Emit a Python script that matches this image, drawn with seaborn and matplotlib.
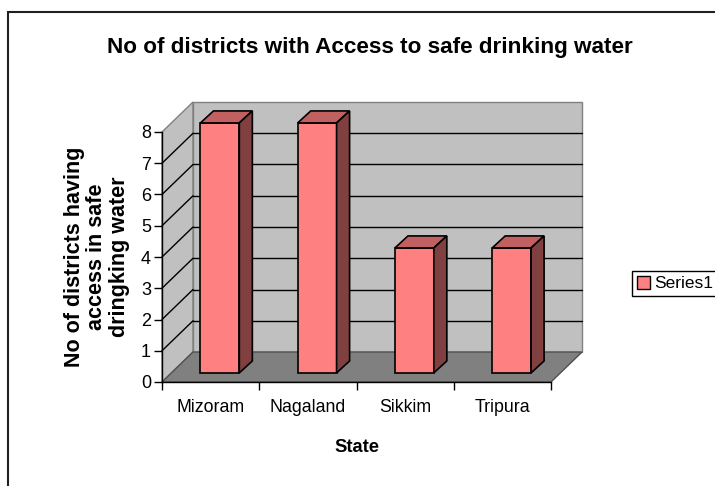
import matplotlib
matplotlib.use("Agg")
import matplotlib.pyplot as plt
import seaborn as sns
from matplotlib.patches import Polygon, Rectangle, Patch

states = ["Mizoram", "Nagaland", "Sikkim", "Tripura"]
districts = [8, 8, 4, 4]
series_name = "Series1"
y_ticks = [0, 1, 2, 3, 4, 5, 6, 7, 8]

FRONT = "#FF8080"
TOP = "#C06060"
SIDE = "#804040"
WALL = "#C0C0C0"
FLOOR = "#808080"

sns.set_style("white")
plt.rcParams["font.family"] = ["Liberation Sans", "DejaVu Sans"]
plt.rcParams["text.color"] = "black"
plt.rcParams["xtick.color"] = "black"
plt.rcParams["ytick.color"] = "black"
plt.rcParams["axes.labelcolor"] = "black"

fig = plt.figure(figsize=(7.15, 4.86), dpi=100)
ax = fig.add_axes([162 / 715, 1 - 382 / 486, 389 / 715, 250 / 486])
ax.set_facecolor("none")

# depth of the 3d box and of the bars (data units)
dx, dy = 0.319, 0.96
fx, fy = 0.095, 0.29
bx, by = 0.134, 0.384

x0, x1 = -0.5, len(states) - 0.5
ytop = y_ticks[-1]

# walls and floor
ax.add_patch(Polygon([(x0, 0), (x0, ytop), (x0 + dx, ytop + dy), (x0 + dx, dy)],
                     closed=True, fc=WALL, ec=FLOOR, lw=1, zorder=0.5, clip_on=False))
ax.add_patch(Rectangle((x0 + dx, dy), x1 - x0, ytop, fc=WALL, ec=FLOOR, lw=1,
                       zorder=0.5, clip_on=False))
ax.add_patch(Polygon([(x0, 0), (x1, 0), (x1 + dx, dy), (x0 + dx, dy)],
                     closed=True, fc=FLOOR, ec="#505050", lw=1, zorder=0.6, clip_on=False))
for v in y_ticks[1:-1]:
    ax.plot([x0 + dx, x1 + dx], [v + dy, v + dy], color="black", lw=1, zorder=0.7, clip_on=False)
    ax.plot([x0, x0 + dx], [v, v + dy], color="black", lw=1, zorder=0.7, clip_on=False)

sns.barplot(x=states, y=districts, color=FRONT, width=0.40, edgecolor="black",
            linewidth=1.2, saturation=1, ax=ax, zorder=3)

# push front faces back a bit and add top / side faces
for bar in ax.patches[3:]:
    bar.set_x(bar.get_x() + fx)
    bar.set_y(bar.get_y() + fy)
    bar.set_clip_on(False)
    xl = bar.get_x()
    xr = xl + bar.get_width()
    yb = bar.get_y()
    yt = yb + bar.get_height()
    ax.add_patch(Polygon([(xl, yt), (xr, yt), (xr + bx, yt + by), (xl + bx, yt + by)],
                         closed=True, fc=TOP, ec="black", lw=1.2, zorder=3, clip_on=False))
    ax.add_patch(Polygon([(xr, yb), (xr, yt), (xr + bx, yt + by), (xr + bx, yb + by)],
                         closed=True, fc=SIDE, ec="black", lw=1.2, zorder=3, clip_on=False))

ax.set_xlim(x0, x1)
ax.set_ylim(0, ytop)
ax.set_yticks(y_ticks)
ax.set_xticks(range(len(states)))
ax.set_xticklabels(states)
ax.set_xticks([i - 0.5 for i in range(len(states) + 1)], minor=True)
ax.tick_params(axis="y", length=6, width=1, color="black", direction="out",
               left=True, labelsize=13, pad=2)
ax.tick_params(axis="x", which="major", length=0, labelsize=12.8, pad=12)
ax.tick_params(axis="x", which="minor", length=6, width=1, color="black",
               direction="out", bottom=True)
ax.set_xlabel("")
ax.set_ylabel("")
for s in ["top", "right"]:
    ax.spines[s].set_visible(False)
for s in ["left", "bottom"]:
    ax.spines[s].set_color("black")
    ax.spines[s].set_linewidth(1)
    ax.spines[s].set_zorder(1)

fig.text(370 / 715, 1 - 47 / 486, "No of districts with Access to safe drinking water",
         ha="center", va="center", fontsize=16.2, fontweight="bold")
fig.text(357 / 715, 1 - 447 / 486, "State", ha="center", va="center",
         fontsize=13.2, fontweight="bold")
fig.text(97 / 715, 1 - 257 / 486, "No of districts having\naccess in safe\ndringking water",
         rotation=90, ha="center", va="center", multialignment="center",
         fontsize=15.5, fontweight="bold", linespacing=1.1)

fig.legend(handles=[Patch(fc=FRONT, ec="black")], labels=[series_name],
           loc="center left", bbox_to_anchor=(632 / 715, 1 - 283.5 / 486),
           frameon=True, fancybox=False, edgecolor="black", framealpha=1,
           fontsize=12.5, borderpad=0.3, handlelength=0.75, handleheight=0.75,
           handletextpad=0.25, borderaxespad=0)

fig.add_artist(Rectangle((8 / 715, -0.05), 1.0, (1 - 12 / 486) + 0.05,
                         transform=fig.transFigure, fill=False, ec="#202020", lw=1.5))

fig.savefig("out.png", dpi=100)
